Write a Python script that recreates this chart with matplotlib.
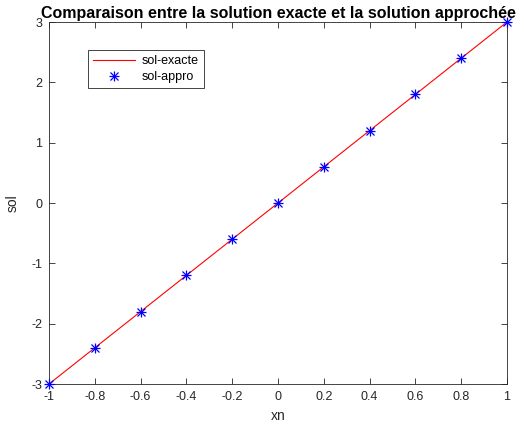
import numpy as np
import matplotlib
matplotlib.use('agg')
import matplotlib.pyplot as plt

plt.rcParams['font.family'] = ['Liberation Sans', 'DejaVu Sans']
plt.rcParams['axes.unicode_minus'] = False

xn = [-1.0, -0.8, -0.6, -0.4, -0.2, 0.0, 0.2, 0.4, 0.6, 0.8, 1.0]
sol_exacte = [-3.0, -2.4, -1.8, -1.2, -0.6, 0.0, 0.6, 1.2, 1.8, 2.4, 3.0]
sol_appro = [-3.0, -2.4, -1.8, -1.2, -0.6, 0.0, 0.6, 1.2, 1.8, 2.4, 3.0]
xticks = [-1, -0.8, -0.6, -0.4, -0.2, 0, 0.2, 0.4, 0.6, 0.8, 1]
xticklabels = ['-1', '-0.8', '-0.6', '-0.4', '-0.2', '0', '0.2', '0.4', '0.6', '0.8', '1']
yticks = [-3, -2, -1, 0, 1, 2, 3]

fig = plt.figure(figsize=(5.24, 4.34), dpi=100)
ax = fig.add_axes([0.0935, 0.1152, 0.8741, 0.8341])

ax.plot(xn, sol_exacte, color='red', lw=0.8, label='sol-exacte')
# asterisk marker = plus + cross
ax.plot(xn, sol_appro, ls='none', marker='+', color='blue', ms=7.5,
        markeredgewidth=0.9, clip_on=False, zorder=3)
ax.plot(xn, sol_appro, ls='none', marker='x', color='blue', ms=5.5,
        markeredgewidth=0.9, clip_on=False, zorder=3)
h_plus, = ax.plot([], [], ls='none', marker='+', color='blue', ms=7.5, markeredgewidth=0.9)
h_x, = ax.plot([], [], ls='none', marker='x', color='blue', ms=5.5, markeredgewidth=0.9)
h_line = ax.get_lines()[0]

ax.set_xlim(-1, 1)
ax.set_ylim(-3, 3)
ax.set_xticks(xticks)
ax.set_xticklabels(xticklabels)
ax.set_yticks(yticks)
ax.tick_params(direction='in', top=True, right=True, length=4, width=0.6,
               labelsize=9, colors='#262626', pad=5)
for s in ax.spines.values():
    s.set_linewidth(0.6)
    s.set_color('#262626')

ax.set_xlabel('xn', fontsize=10, color='#262626')
ax.set_ylabel('sol', fontsize=10, color='#262626', labelpad=8)
ax.set_title('Comparaison entre la solution exacte et la solution approchée',
             fontsize=11.5, fontweight='bold', pad=3)

leg = ax.legend([h_line, (h_plus, h_x)], ['sol-exacte', 'sol-appro'],
                loc='upper left', bbox_to_anchor=(0.085, 0.923), borderaxespad=0,
                fontsize=9, fancybox=False, framealpha=1, edgecolor='#262626',
                handlelength=3.4, borderpad=0.4, labelspacing=0.35,
                handletextpad=0.5)
leg.get_frame().set_linewidth(0.6)

fig.savefig('out.png', dpi=100)
